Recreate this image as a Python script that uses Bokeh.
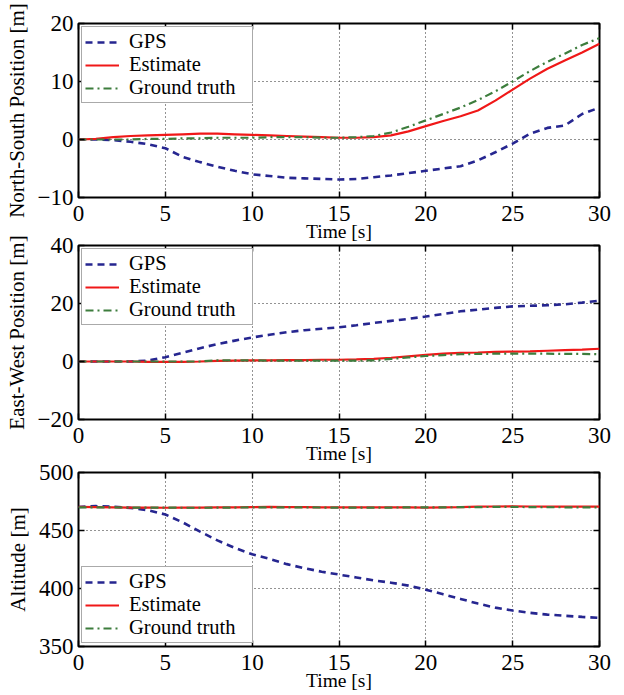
from bokeh.plotting import figure
from bokeh.layouts import column
from bokeh.models import (Range1d, SingleIntervalTicker, LinearAxis, Grid,
                          Legend, LegendItem)
from bokeh.embed import file_html
from bokeh.resources import INLINE

# Time axis (seconds)
time_s = list(range(31))

# North-South position [m]
ns_gps = [0.0, 0.0, -0.1, -0.4, -0.8, -1.5, -3.0, -3.9, -4.7, -5.4, -6.0,
          -6.3, -6.6, -6.7, -6.8, -6.9, -6.8, -6.5, -6.2, -5.8, -5.4,
          -5.0, -4.6, -3.6, -2.2, -0.7, 1.0, 2.0, 2.4, 4.4, 5.5]
ns_est = [0.0, 0.1, 0.4, 0.6, 0.7, 0.8, 0.9, 1.0, 1.0, 0.9, 0.8,
          0.7, 0.6, 0.5, 0.4, 0.3, 0.3, 0.4, 0.7, 1.4, 2.3,
          3.2, 4.0, 5.0, 6.7, 8.6, 10.5, 12.2, 13.6, 15.0, 16.5]
ns_truth = [0.0, 0.0, 0.0, 0.0, 0.1, 0.1, 0.2, 0.2, 0.3, 0.3, 0.3,
            0.4, 0.4, 0.4, 0.3, 0.3, 0.4, 0.6, 1.2, 2.2, 3.3,
            4.4, 5.5, 6.8, 8.3, 10.0, 11.8, 13.4, 14.8, 16.3, 17.5]

# East-West position [m]
ew_gps = [0.0, 0.0, 0.0, 0.0, 0.3, 1.5, 3.0, 4.6, 6.0, 7.2, 8.3,
          9.2, 10.1, 10.8, 11.3, 11.8, 12.5, 13.3, 14.0, 14.7, 15.5,
          16.4, 17.3, 17.9, 18.5, 19.0, 19.2, 19.4, 19.7, 20.3, 21.0]
ew_est = [0.0, 0.0, 0.0, 0.0, -0.1, -0.1, -0.1, 0.0, 0.2, 0.3, 0.4,
          0.4, 0.5, 0.5, 0.6, 0.6, 0.7, 0.9, 1.3, 1.8, 2.3,
          2.7, 3.0, 3.1, 3.3, 3.4, 3.5, 3.7, 3.9, 4.1, 4.4]
ew_truth = [0.0, 0.0, 0.0, 0.0, 0.0, 0.0, 0.0, 0.0, 0.4, 0.4, 0.4,
            0.3, 0.3, 0.3, 0.3, 0.3, 0.3, 0.4, 0.9, 1.4, 1.9,
            2.2, 2.5, 2.6, 2.7, 2.7, 2.7, 2.7, 2.6, 2.6, 2.5]

# Altitude [m]
alt_gps = [470.3, 471.0, 470.5, 469.5, 467.5, 463.8, 457.0, 449.0, 441.5, 435.0, 429.5,
           425.5, 421.0, 417.5, 414.5, 412.0, 409.5, 407.0, 405.0, 402.5, 399.0,
           395.0, 391.0, 387.0, 383.5, 381.0, 379.0, 377.5, 376.5, 375.5, 374.7]
alt_est = [470.3, 470.2, 470.0, 469.8, 469.7, 469.6, 469.7, 469.8, 469.9, 470.0, 470.2,
           470.3, 470.2, 470.1, 470.0, 469.9, 469.9, 470.0, 470.0, 469.9, 469.8,
           470.0, 470.2, 470.5, 470.7, 470.8, 470.7, 470.6, 470.5, 470.5, 470.5]
alt_truth = [470.0, 470.0, 469.9, 469.8, 469.8, 469.7, 469.6, 469.6, 469.7, 469.8, 469.9,
             470.0, 470.0, 469.9, 469.8, 469.8, 469.7, 469.7, 469.8, 469.9, 469.9,
             470.0, 470.1, 470.2, 470.3, 470.3, 470.2, 470.1, 470.0, 470.0, 470.0]

series_names = ["GPS", "Estimate", "Ground truth"]

FONT = "Liberation Serif"
GPS_STYLE = dict(line_color="#262690", line_width=2.6, line_dash="7 5")
EST_STYLE = dict(line_color="#f01818", line_width=2.2)
TRUTH_STYLE = dict(line_color="#3d7d3d", line_width=2.2, line_dash="8 4 2 4")


def style_axis(axis, show_labels):
    axis.axis_line_color = None
    axis.major_tick_in = 6
    axis.major_tick_out = 0
    axis.major_tick_line_color = "black"
    axis.major_tick_line_width = 1.5
    axis.minor_tick_line_color = None
    if show_labels:
        axis.major_label_text_font = FONT
        axis.major_label_text_font_size = "23px"
        axis.major_label_text_color = "black"
    else:
        # tick marks only on the mirrored sides of the box
        axis.major_label_text_color = None
        axis.major_label_text_font_size = "0px"
        axis.major_label_standoff = 0


def make_panel(y_lo, y_hi, y_step, ylabel, gps, est, truth, legend_loc,
               border_top, shift_up):
    p = figure(frame_width=521, frame_height=174,
               x_range=Range1d(0, 30), y_range=Range1d(y_lo, y_hi),
               x_axis_type=None, y_axis_type=None,
               output_backend="svg", toolbar_location=None,
               min_border_left=78, min_border_right=25,
               min_border_top=border_top, min_border_bottom=0)
    # transparent borders so stacked panels can overlap a little
    p.background_fill_color = "white"
    p.border_fill_color = "white"
    p.border_fill_alpha = 0
    p.outline_line_color = "black"
    p.outline_line_width = 2
    if shift_up:
        p.margin = (-shift_up, 0, 0, 0)

    xt = SingleIntervalTicker(interval=5, num_minor_ticks=0)
    yt = SingleIntervalTicker(interval=y_step, num_minor_ticks=0)

    xb = LinearAxis(ticker=xt, axis_label="Time [s]")
    style_axis(xb, True)
    xb.major_label_standoff = 8
    xb.axis_label_text_font = FONT
    xb.axis_label_text_font_size = "19.5px"
    xb.axis_label_text_font_style = "normal"
    xb.axis_label_text_color = "black"
    xb.axis_label_standoff = -3
    p.add_layout(xb, "below")

    xa = LinearAxis(ticker=xt)
    style_axis(xa, False)
    p.add_layout(xa, "above")

    yl = LinearAxis(ticker=yt, axis_label=ylabel)
    style_axis(yl, True)
    yl.major_label_standoff = 5
    yl.axis_label_text_font = FONT
    yl.axis_label_text_font_size = "21px"
    yl.axis_label_text_font_style = "normal"
    yl.axis_label_text_color = "black"
    yl.axis_label_standoff = 6
    p.add_layout(yl, "left")

    yr = LinearAxis(ticker=yt)
    style_axis(yr, False)
    p.add_layout(yr, "right")

    for dim, tk in ((0, xt), (1, yt)):
        g = Grid(dimension=dim, ticker=tk, grid_line_color="black",
                 grid_line_dash="1 3", grid_line_width=1, grid_line_alpha=0.85)
        p.add_layout(g)

    r_gps = p.line(time_s, gps, **GPS_STYLE)
    r_est = p.line(time_s, est, **EST_STYLE)
    r_truth = p.line(time_s, truth, **TRUTH_STYLE)

    legend = Legend(items=[LegendItem(label=n, renderers=[r])
                           for n, r in zip(series_names, [r_gps, r_est, r_truth])],
                    location=legend_loc)
    legend.label_text_font = FONT
    legend.label_text_font_size = "20.5px"
    legend.label_text_color = "black"
    legend.glyph_width = 34
    legend.glyph_height = 22
    legend.label_height = 22
    legend.label_width = 120
    legend.label_standoff = 10
    legend.spacing = 0
    legend.padding = 3
    legend.margin = 3
    legend.border_line_color = "#555555"
    legend.border_line_width = 1
    legend.background_fill_color = "white"
    legend.background_fill_alpha = 1.0
    p.add_layout(legend)
    return p


p1 = make_panel(-10, 20, 10, "North-South Position [m]", ns_gps, ns_est, ns_truth,
                "top_left", 23, 0)
p2 = make_panel(-20, 40, 20, "East-West Position [m]", ew_gps, ew_est, ew_truth,
                "top_left", 14, 13)
p3 = make_panel(350, 500, 50, "Altitude [m]", alt_gps, alt_est, alt_truth,
                "bottom_left", 14, 8)

p = column(p1, p2, p3, spacing=0)

open("out.html", "w").write(file_html(p, INLINE))
